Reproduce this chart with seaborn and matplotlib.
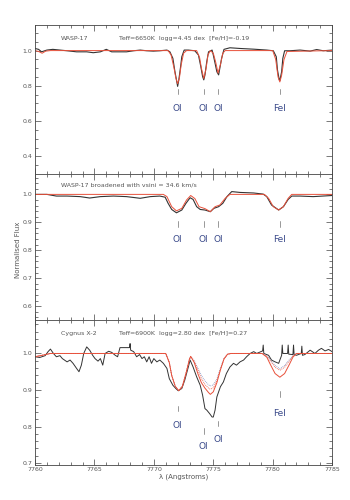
import numpy as np
import pandas as pd
import matplotlib
matplotlib.use("Agg")
import matplotlib.pyplot as plt
import seaborn as sns
from matplotlib.ticker import MultipleLocator

# ---- data ----
# Panel 1: WASP-17 observed (black) and model (red)
p1_obs_wave = [7760.0, 7760.3, 7760.55, 7761.0, 7761.5, 7762.1, 7762.7, 7763.5, 7764.35, 7764.9,
               7765.5, 7766.0, 7766.45, 7767.15, 7767.7, 7768.3, 7768.85, 7769.4, 7769.95, 7770.5,
               7771.1, 7771.35, 7771.6, 7771.75, 7771.9, 7772.0, 7772.1, 7772.25, 7772.35, 7772.55,
               7772.9, 7773.45, 7773.75, 7773.95, 7774.1, 7774.2, 7774.3, 7774.45, 7774.6, 7774.9,
               7775.0, 7775.15, 7775.3, 7775.45, 7775.55, 7775.7, 7775.9, 7776.4, 7777.25, 7778.4,
               7779.5, 7780.05, 7780.3, 7780.4, 7780.55, 7780.6, 7780.75, 7780.85, 7781.0, 7781.45,
               7782.3, 7783.15, 7783.7, 7784.25, 7785.0]
p1_obs_flux = [1.012, 1.007, 0.993, 1.003, 1.007, 1.003, 0.999, 0.993, 0.993, 0.988,
               0.993, 1.007, 0.993, 0.993, 0.993, 0.999, 1.003, 0.999, 0.997, 0.999,
               1.003, 0.993, 0.956, 0.890, 0.834, 0.797, 0.834, 0.909, 0.965, 1.003,
               1.003, 0.999, 0.975, 0.909, 0.853, 0.834, 0.862, 0.937, 0.993, 1.003,
               0.975, 0.928, 0.880, 0.862, 0.900, 0.956, 1.007, 1.016, 1.012, 1.008,
               1.003, 0.999, 0.965, 0.890, 0.834, 0.830, 0.880, 0.956, 0.999, 0.999,
               1.003, 0.997, 1.006, 0.999, 1.003]
p1_mod_wave = [7760.0, 7760.3, 7760.6, 7760.9, 7761.3, 7771.2, 7771.45, 7771.7, 7771.85, 7772.0,
               7772.15, 7772.3, 7772.5, 7772.75, 7773.6, 7773.85, 7774.0, 7774.2, 7774.4, 7774.55,
               7774.75, 7775.0, 7775.2, 7775.4, 7775.6, 7775.8, 7776.0, 7780.0, 7780.25, 7780.45,
               7780.6, 7780.75, 7780.95, 7781.2, 7785.0]
p1_mod_flux = [1.000, 0.995, 0.985, 0.997, 1.000, 1.000, 0.975, 0.900, 0.845, 0.812,
               0.845, 0.920, 0.985, 1.000, 1.000, 0.960, 0.900, 0.842, 0.900, 0.975,
               1.000, 0.985, 0.935, 0.872, 0.920, 0.985, 1.000, 1.000, 0.950, 0.850,
               0.822, 0.860, 0.950, 0.995, 1.000]

# Panel 2: WASP-17 broadened (vsini = 34.6 km/s)
p2_obs_wave = [7760.0, 7761.0, 7761.8, 7762.7, 7763.8, 7764.6, 7765.5, 7766.6, 7767.7, 7768.85,
               7769.7, 7770.5, 7770.95, 7771.2, 7771.5, 7771.9, 7772.35, 7772.7, 7773.05, 7773.3,
               7773.6, 7773.9, 7774.3, 7774.75, 7775.05, 7775.45, 7775.8, 7776.15, 7776.55, 7777.25,
               7778.4, 7779.2, 7779.5, 7779.9, 7780.5, 7780.9, 7781.3, 7781.6, 7782.3, 7783.4,
               7785.0]
p2_obs_flux = [1.000, 1.000, 0.994, 0.994, 0.992, 0.987, 0.992, 0.994, 0.992, 0.986,
               0.992, 0.994, 0.990, 0.968, 0.946, 0.934, 0.944, 0.968, 0.988, 0.982,
               0.956, 0.946, 0.944, 0.938, 0.950, 0.956, 0.968, 0.992, 1.010, 1.007,
               1.005, 1.001, 0.992, 0.962, 0.944, 0.956, 0.982, 0.994, 0.994, 0.992,
               0.996]
p2_mod_wave = [7760.0, 7770.8, 7771.1, 7771.5, 7771.9, 7772.35, 7772.75, 7773.1, 7773.45, 7773.8,
               7774.3, 7774.75, 7775.15, 7775.55, 7776.0, 7776.4, 7779.3, 7779.65, 7780.05, 7780.5,
               7780.9, 7781.3, 7781.6, 7785.0]
p2_mod_flux = [1.000, 1.000, 0.992, 0.956, 0.941, 0.950, 0.980, 0.996, 0.985, 0.956,
               0.949, 0.938, 0.956, 0.962, 0.986, 1.000, 1.000, 0.986, 0.956, 0.944,
               0.956, 0.986, 1.000, 1.000]

# Panel 3: Cygnus X-2 observed (black) and models
p3_obs_wave = [7760.0, 7760.4, 7760.85, 7761.1, 7761.3, 7761.55, 7761.8, 7762.1, 7762.3, 7762.7,
               7762.95, 7763.2, 7763.5, 7763.7, 7763.9, 7764.1, 7764.35, 7764.6, 7764.85, 7765.05,
               7765.3, 7765.5, 7765.7, 7765.9, 7766.2, 7766.45, 7766.75, 7766.95, 7767.15, 7767.95,
               7768.0, 7768.05, 7768.3, 7768.55, 7768.8, 7769.0, 7769.2, 7769.4, 7769.6, 7769.8,
               7770.0, 7770.25, 7770.5, 7770.8, 7771.1, 7771.3, 7771.6, 7771.85, 7772.05, 7772.35,
               7772.6, 7772.9, 7773.05, 7773.3, 7773.6, 7773.9, 7774.1, 7774.3, 7774.45, 7774.7,
               7774.9, 7775.0, 7775.15, 7775.3, 7775.45, 7775.6, 7775.85, 7776.1, 7776.4, 7776.7,
               7776.95, 7777.25, 7777.55, 7777.8, 7778.1, 7778.4, 7778.65, 7779.15, 7779.2, 7779.25,
               7779.65, 7779.9, 7780.2, 7780.5, 7780.75, 7780.8, 7780.85, 7781.25, 7781.3, 7781.35,
               7781.7, 7781.75, 7781.8, 7782.0, 7782.4, 7782.45, 7782.5, 7782.7, 7783.15, 7783.55,
               7783.85, 7784.1, 7784.4, 7784.7, 7785.0]
p3_obs_flux = [0.991, 0.989, 0.994, 1.005, 1.012, 1.000, 0.991, 0.994, 0.986, 0.977,
               0.982, 0.973, 0.959, 0.950, 0.968, 1.000, 1.018, 1.009, 0.995, 0.986,
               0.979, 0.986, 0.968, 1.000, 1.006, 1.003, 0.995, 0.991, 1.016, 1.016,
               1.027, 1.009, 1.005, 0.991, 0.997, 0.986, 0.991, 0.977, 0.991, 0.973,
               0.986, 0.977, 0.982, 0.973, 0.959, 0.931, 0.913, 0.904, 0.898, 0.904,
               0.927, 0.963, 0.982, 0.963, 0.936, 0.913, 0.886, 0.849, 0.845, 0.835,
               0.826, 0.826, 0.845, 0.881, 0.895, 0.909, 0.922, 0.945, 0.963, 0.973,
               0.968, 0.977, 0.982, 0.991, 1.000, 1.005, 1.000, 1.007, 1.023, 1.000,
               0.995, 0.982, 0.977, 0.973, 0.995, 1.023, 1.000, 1.000, 1.023, 0.998,
               0.997, 1.023, 0.997, 0.995, 1.000, 1.020, 0.995, 0.997, 1.009, 1.000,
               1.009, 1.014, 1.007, 1.011, 1.005]
p3_mod_wave = [7760.0, 7760.6, 7761.3, 7771.0, 7771.3, 7771.5, 7771.8, 7772.1, 7772.4, 7772.7,
               7773.0, 7773.1, 7773.4, 7773.7, 7774.0, 7774.3, 7774.6, 7774.75, 7775.0, 7775.3,
               7775.6, 7775.9, 7776.2, 7776.5, 7779.1, 7779.5, 7779.8, 7780.2, 7780.6, 7781.0,
               7781.4, 7781.7, 7782.0, 7785.0]
p3_mod_flux = [0.991, 0.995, 1.000, 1.000, 0.975, 0.940, 0.910, 0.898, 0.910, 0.945,
               0.985, 0.992, 0.975, 0.945, 0.920, 0.905, 0.893, 0.888, 0.895, 0.920,
               0.955, 0.985, 0.998, 1.000, 1.000, 0.990, 0.970, 0.945, 0.935, 0.945,
               0.970, 0.990, 1.000, 1.000]
p3_mod2_flux = [0.991, 0.995, 1.000, 1.000, 0.975, 0.940, 0.910, 0.898, 0.910, 0.945,
                0.985, 0.992, 0.978, 0.955, 0.932, 0.915, 0.905, 0.902, 0.906, 0.925,
                0.957, 0.985, 0.998, 1.000, 1.000, 0.993, 0.980, 0.962, 0.954, 0.962,
                0.980, 0.993, 1.000, 1.000]
p3_mod3_flux = [0.991, 0.995, 1.000, 1.000, 0.975, 0.940, 0.910, 0.898, 0.910, 0.945,
                0.985, 0.992, 0.980, 0.960, 0.940, 0.925, 0.914, 0.911, 0.914, 0.930,
                0.960, 0.986, 0.998, 1.000, 1.000, 0.994, 0.983, 0.967, 0.958, 0.967,
                0.983, 0.994, 1.000, 1.000]

line_waves = [7772.0, 7774.2, 7775.4, 7780.6]
line_names = ["OI", "OI", "OI", "FeI"]

headers = [("WASP-17", "Teff=6650K  logg=4.45 dex  [Fe/H]=-0.19"),
           ("WASP-17 broadened with vsini = 34.6 km/s", None),
           ("Cygnus X-2", "Teff=6900K  logg=2.80 dex  [Fe/H]=0.27")]

# ---- style ----
sns.set_theme(style="ticks")
plt.rcParams['font.family'] = ['DejaVu Sans']

BLACK = "#333333"
RED = "#e8503a"
BLUE = "#8090c0"
LABEL = "#3a4a8a"
TEXT = "#555555"

fig = plt.figure(figsize=(3.5, 5), dpi=100)
left, width = 0.1, 0.849
bounds = [(0.652, 0.951), (0.361, 0.652), (0.071, 0.361)]
axes = [fig.add_axes([left, b, width, t - b]) for b, t in bounds]

ylims = [(0.30, 1.148), (0.552, 1.073), (0.696, 1.093)]
ymajor = [0.2, 0.1, 0.1]
yminor = [0.05, 0.02, 0.02]

# line marker positions per panel: (tick bottom, tick top, label y)
marks = [
    [(0.755, 0.783, 0.670)] * 4,
    [(0.885, 0.903, 0.839)] * 4,
    [(0.842, 0.857, 0.803), (0.780, 0.795, 0.744), (0.801, 0.816, 0.765), (0.881, 0.896, 0.835)],
]

d1o = pd.DataFrame({"wave": p1_obs_wave, "flux": p1_obs_flux})
d1m = pd.DataFrame({"wave": p1_mod_wave, "flux": p1_mod_flux})
d2o = pd.DataFrame({"wave": p2_obs_wave, "flux": p2_obs_flux})
d2m = pd.DataFrame({"wave": p2_mod_wave, "flux": p2_mod_flux})
d3o = pd.DataFrame({"wave": p3_obs_wave, "flux": p3_obs_flux})
d3m = pd.DataFrame({"wave": p3_mod_wave, "flux": p3_mod_flux,
                    "flux2": p3_mod2_flux, "flux3": p3_mod3_flux})

ax = axes[0]
sns.lineplot(data=d1o, x="wave", y="flux", ax=ax, color=BLACK, lw=0.8, estimator=None)
sns.lineplot(data=d1m, x="wave", y="flux", ax=ax, color=RED, lw=0.7, estimator=None)

ax = axes[1]
sns.lineplot(data=d2o, x="wave", y="flux", ax=ax, color=BLACK, lw=0.8, estimator=None)
sns.lineplot(data=d2m, x="wave", y="flux", ax=ax, color=RED, lw=0.7, estimator=None)

ax = axes[2]
sns.lineplot(data=d3o, x="wave", y="flux", ax=ax, color=BLACK, lw=0.7, estimator=None)
sns.lineplot(data=d3m, x="wave", y="flux3", ax=ax, color=BLUE, lw=0.6, linestyle=(0, (1, 1.2)),
             estimator=None)
sns.lineplot(data=d3m, x="wave", y="flux2", ax=ax, color=RED, lw=0.6, linestyle=(0, (1, 1.2)),
             estimator=None)
sns.lineplot(data=d3m, x="wave", y="flux", ax=ax, color=RED, lw=0.7, estimator=None)

for i, ax in enumerate(axes):
    ax.set_xlim(7760, 7785)
    ax.set_ylim(*ylims[i])
    ax.xaxis.set_major_locator(MultipleLocator(5))
    ax.xaxis.set_minor_locator(MultipleLocator(1))
    ax.yaxis.set_major_locator(MultipleLocator(ymajor[i]))
    ax.yaxis.set_minor_locator(MultipleLocator(yminor[i]))
    ax.tick_params(which="both", direction="in", top=True, right=True,
                   color="#444444", width=0.5, labelsize=4.5, labelcolor=TEXT, pad=2)
    ax.tick_params(which="major", length=4)
    ax.tick_params(which="minor", length=2)
    ax.yaxis.set_major_formatter(matplotlib.ticker.FormatStrFormatter("%.1f"))
    for sp in ax.spines.values():
        sp.set_color("#444444")
        sp.set_linewidth(0.6)
    ax.set_xlabel("")
    ax.set_ylabel("")
    if i < 2:
        ax.tick_params(labelbottom=False)

    # header texts
    hy = [1.069, 1.033, 1.055][i]
    ax.text(7762.2, hy, headers[i][0], fontsize=4.5, color=TEXT, va="center")
    if headers[i][1]:
        ax.text(7767.1, hy, headers[i][1], fontsize=4.5, color=TEXT, va="center")

    # line identifications
    for w, name, (y0, y1, ly) in zip(line_waves, line_names, marks[i]):
        ax.plot([w, w], [y0, y1], color="#888888", lw=0.6)
        ax.text(w, ly, name, fontsize=6.5, color=LABEL, ha="center", va="center")

axes[2].xaxis.set_major_formatter(matplotlib.ticker.FormatStrFormatter("%d"))
axes[2].set_xlabel("λ (Angstroms)", fontsize=5, color=TEXT, labelpad=1)
fig.text(0.05, 0.5, "Normalised Flux", rotation=90, fontsize=5, color=TEXT,
         ha="center", va="center")

fig.savefig("out.png", dpi=100)
